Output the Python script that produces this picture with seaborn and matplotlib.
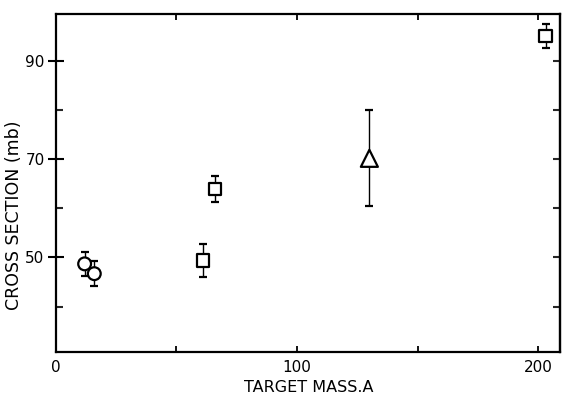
import matplotlib
matplotlib.use("Agg")
import matplotlib.pyplot as plt
import seaborn as sns
import pandas as pd
from matplotlib.ticker import FixedLocator

# ---- data ----
target_mass = [12, 16, 61, 66, 130, 203]
cross_section = [48.7, 46.7, 49.4, 63.9, 70.2, 95.1]
cross_error = [2.45, 2.5, 3.35, 2.65, 9.8, 2.5]
shape = ["circle", "circle", "square", "square", "triangle", "square"]

x_major = [0, 100, 200]
x_minor = [50, 150]
y_major = [50, 70, 90]
y_minor = [40, 60, 80]

df = pd.DataFrame({"mass": target_mass, "xs": cross_section,
                   "err": cross_error, "shape": shape})

sns.set_style("white")
plt.rcParams["font.family"] = ["DejaVu Sans"]
plt.rcParams["text.color"] = "black"
plt.rcParams["axes.labelcolor"] = "black"

fig = plt.figure(figsize=(5.74, 3.98), dpi=100)
ax = fig.add_axes([0.097, 0.1163, 0.8786, 0.8497])

ax.errorbar(df["mass"], df["xs"], yerr=df["err"], fmt="none",
            ecolor="black", elinewidth=1.0, capsize=2.6, capthick=1.6, zorder=2)

sns.scatterplot(data=df, x="mass", y="xs", style="shape", size="shape",
                markers={"circle": "o", "square": "s", "triangle": "^"},
                sizes={"circle": 85, "square": 80, "triangle": 150},
                facecolor="white", edgecolor="black", linewidth=1.6,
                legend=False, ax=ax, zorder=3)

ax.set_xlim(0, 209)
ax.set_ylim(30.8, 99.7)

ax.xaxis.set_major_locator(FixedLocator(x_major))
ax.xaxis.set_minor_locator(FixedLocator(x_minor))
ax.yaxis.set_major_locator(FixedLocator(y_major))
ax.yaxis.set_minor_locator(FixedLocator(y_minor))
ax.set_xticklabels([str(v) for v in x_major])
ax.set_yticklabels([str(v) for v in y_major])

ax.tick_params(axis="x", which="both", direction="in", length=4, width=1.3,
               top=True, bottom=True, labelsize=11, pad=6, colors="black")
ax.tick_params(axis="y", which="major", direction="inout", length=12, width=1.5,
               left=True, right=False, labelsize=11, pad=2, colors="black")
ax.tick_params(axis="y", which="minor", direction="in", length=5, width=1.5,
               left=True, right=False)

# right-side inward ticks at every 10
secy = ax.secondary_yaxis("right")
secy.yaxis.set_major_locator(FixedLocator(y_major + y_minor))
secy.tick_params(direction="in", length=5, width=1.5, labelright=False)
secy.spines["right"].set_linewidth(1.6)

for s in ax.spines.values():
    s.set_linewidth(1.6)
    s.set_color("black")

ax.set_xlabel("TARGET MASS.A", fontsize=11.5, color="black")
ax.set_ylabel("CROSS SECTION (mb)", fontsize=12.5, color="black")
ax.xaxis.set_label_coords(0.501, -0.083)
ax.yaxis.set_label_coords(-0.064, 0.404)

fig.savefig("out.png", dpi=100)
